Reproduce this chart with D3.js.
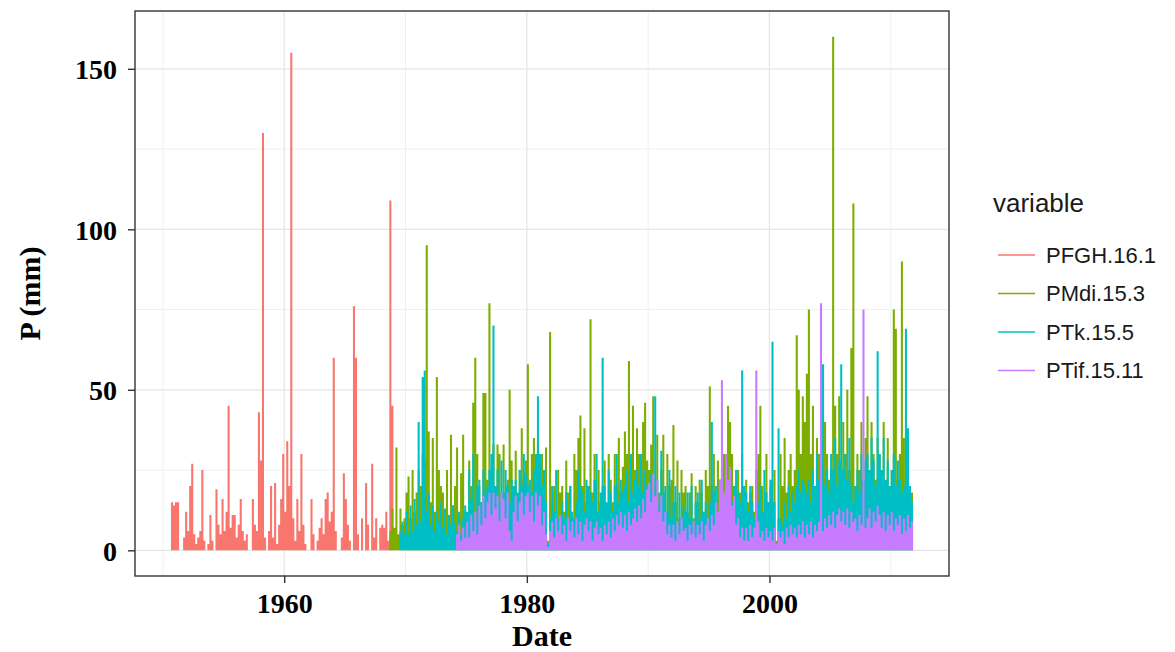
<!DOCTYPE html>
<html>
<head>
<meta charset="utf-8">
<script src="https://cdn.jsdelivr.net/npm/d3@7"></script>
<style>
  body { margin: 0; background: #ffffff; }
  svg { display: block; }
</style>
</head>
<body>
<svg id="chart" width="1175" height="652"></svg>
<script>
// Precipitation records, one value every two months (mm)
const seriesNames = ["PFGH.16.1", "PMdi.15.3", "PTk.15.5", "PTif.15.11"];
const seriesColors = ["#F8766D", "#7CAE00", "#00BFC4", "#C77CFF"];
const stepYears = 1 / 6;

const startPFGH = 1950.75;
const valuesPFGH = [
  15, 14, 15, 15, 0, 0,   4, 12, 6, 20, 27, 5,    2, 4, 6, 25, 3, 0,
  2, 11, 3, 0, 19, 8,     5, 16, 6, 12, 45, 7,    11, 11, 4, 8, 16, 6,
  3, 5, 0, 0, 16, 8,      6, 43, 28, 130, 4, 0,   6, 20, 4, 21, 2, 8,
  16, 30, 12, 34, 20, 155, 10, 3, 16, 6, 30, 8,   2, 0, 0, 16, 5, 0,
  3, 7, 10, 5, 16, 18,    9, 12, 60, 6, 0, 0,     4, 24, 16, 8, 3, 0,
  76, 60, 5, 0, 10, 0,    21, 8, 0, 27, 4, 10,    0, 7, 8, 7, 12, 3,
  109, 45
];

const startPMdi = 1968.75;
const valuesPMdi = [
  6, 13,
  7, 32, 5, 13, 8, 10,
  18, 23, 10, 25, 12, 18,
  25, 20, 30, 28, 95, 37,
  15, 35, 12, 54, 25, 20,
  18, 12, 25, 10, 36, 14,
  20, 32, 10, 24, 36, 12,
  10, 28, 20, 46, 60, 30,
  20, 15, 49, 49, 22, 77,
  25, 33, 8, 33, 30, 18,
  33, 12, 22, 50, 28, 15,
  31, 12, 25, 38, 22, 28,
  58, 18, 30, 35, 20, 33,
  25, 30, 18, 32, 3, 68,
  15, 20, 10, 25, 18, 20,
  12, 28, 18, 20, 8, 30,
  25, 35, 42, 20, 38, 15,
  20, 72, 18, 30, 12, 25,
  15, 20, 28, 12, 30, 22,
  15, 30, 20, 35, 18, 26,
  37, 30, 59, 20, 45, 25,
  38, 30, 22, 40, 46, 28,
  25, 33, 48, 20, 36, 18,
  25, 36, 12, 30, 20, 22,
  39, 15, 28, 10, 25, 18,
  20, 12, 18, 24, 10, 20,
  15, 22, 18, 12, 25, 20,
  51, 20, 30, 15, 28, 22,
  25, 30, 18, 45, 40, 30,
  20, 12, 25, 18, 30, 15,
  22, 15, 18, 20, 12, 25,
  30, 45, 20, 10, 30, 15,
  20, 5, 25, 3, 10, 30,
  20, 35, 18, 25, 30, 20,
  25, 67, 50, 30, 48, 40,
  55, 75, 30, 45, 20, 35,
  30, 20, 25, 40, 30, 22,
  25, 160, 45, 30, 48, 25,
  40, 30, 50, 25, 63, 108,
  20, 30, 25, 40, 18, 35,
  48, 25, 40, 30, 22, 35,
  30, 25, 40, 18, 35, 20,
  25, 75, 69, 22, 30, 90,
  35, 20, 28, 15, 18
];

const startPTk = 1969.5833;
const valuesPTk = [
  6, 9, 5,
  12, 5, 14, 6, 16, 8,
  40, 9, 54, 56, 12, 18,
  8, 14, 6, 12, 9, 15,
  7, 13, 5, 11, 8, 14,
  9, 6, 12, 5, 10, 14,
  12, 25, 16, 30, 10, 20,
  22, 15, 25, 18, 20, 25,
  30, 70, 20, 25, 15, 28,
  18, 25, 20, 15, 22, 20,
  22, 18, 25, 20, 30, 24,
  20, 22, 18, 25, 30, 48,
  30, 20, 25, 15, 2, 10,
  20, 12, 25, 10, 8, 15,
  10, 18, 8, 20, 12, 10,
  15, 25, 20, 18, 12, 22,
  20, 18, 15, 22, 30, 12,
  18, 60, 20, 15, 25, 18,
  12, 20, 30, 15, 22, 18,
  20, 25, 15, 30, 18, 22,
  25, 20, 30, 18, 25, 20,
  20, 24, 18, 48, 22, 15,
  31, 18, 20, 12, 25, 10,
  15, 20, 8, 18, 10, 14,
  12, 18, 10, 20, 8, 15,
  18, 10, 22, 12, 15, 10,
  15, 40, 18, 20, 12, 22,
  20, 15, 25, 18, 22, 15,
  20, 25, 18, 15, 56, 20,
  18, 12, 20, 15, 10, 22,
  15, 20, 12, 25, 18, 15,
  22, 65, 15, 2, 38, 10,
  8, 15, 10, 20, 12, 18,
  15, 20, 25, 18, 22, 20,
  18, 22, 15, 25, 20, 30,
  22, 25, 58, 20, 25, 18,
  30, 25, 35, 20, 28, 58,
  25, 30, 22, 35, 20, 15,
  20, 25, 18, 30, 22, 28,
  30, 25, 35, 28, 20, 62,
  30, 25, 35, 22, 28, 20,
  25, 30, 20, 28, 22, 18,
  20, 69, 38, 20, 15
];

const startPTif = 1974.0833;
const valuesPTif = [
  0, 5, 8, 3, 7, 4,
  9, 4, 11, 6, 12, 5,
  14, 8, 17, 10, 15, 18,
  11, 18, 13, 17, 9, 18,
  16, 10, 18, 6, 3, 12,
  17, 9, 15, 18, 11, 17,
  18, 12, 17, 9, 18, 14,
  17, 8, 12, 5, 1, 6,
  9, 4, 10, 6, 11, 5,
  8, 3, 10, 6, 9, 4,
  10, 5, 9, 3, 8, 10,
  6, 9, 3, 7, 9, 5,
  7, 3, 8, 5, 9, 4,
  10, 6, 11, 8, 12, 7,
  11, 6, 12, 8, 10, 13,
  9, 14, 10, 16, 12, 19,
  21, 15, 24, 17, 22, 12,
  17, 9, 12, 5, 8, 4,
  8, 3, 9, 5, 10, 6,
  7, 3, 8, 5, 9, 4,
  8, 5, 9, 3, 8, 10,
  6, 11, 8, 15, 12, 22,
  53, 18, 30, 22, 26, 14,
  17, 8, 10, 4, 7, 3,
  7, 3, 8, 4, 7, 56,
  9, 4, 6, 3, 7, 4,
  6, 3, 7, 2, 6, 4,
  6, 2, 7, 4, 8, 5,
  7, 4, 8, 5, 9, 4,
  8, 5, 9, 4, 8, 6,
  9, 77, 6, 10, 7, 11,
  8, 12, 7, 11, 13, 9,
  12, 8, 13, 7, 12, 9,
  10, 6, 11, 8, 75, 7,
  10, 13, 7, 12, 9, 14,
  11, 7, 12, 6, 11, 8,
  12, 6, 10, 8, 11, 5,
  10, 6, 11, 7, 9
];

const yTicks = [0, 50, 100, 150];
const yMinorTicks = [25, 75, 125];
const xTicks = [1960, 1980, 2000];
const xMinorTicks = [1950, 1970, 1990, 2010];

const series = [
  { name: seriesNames[0], color: seriesColors[0], start: startPFGH, values: valuesPFGH },
  { name: seriesNames[1], color: seriesColors[1], start: startPMdi, values: valuesPMdi },
  { name: seriesNames[2], color: seriesColors[2], start: startPTk, values: valuesPTk },
  { name: seriesNames[3], color: seriesColors[3], start: startPTif, values: valuesPTif }
].map(s => ({
  ...s,
  points: s.values.map((v, i) => ({ t: s.start + i * stepYears, v }))
}));

// Panel geometry
const panel = { left: 135, right: 949, top: 11, bottom: 576 };

const allPts = series.flatMap(s => s.points);
const tExt = d3.extent(allPts, d => d.t);
const vMax = d3.max(allPts, d => d.v);
const tPad = (tExt[1] - tExt[0]) * 0.05;
const vPad = vMax * 0.05;

const x = d3.scaleLinear()
  .domain([tExt[0] - tPad, tExt[1] + tPad])
  .range([panel.left, panel.right]);
const y = d3.scaleLinear()
  .domain([-vPad, vMax + vPad])
  .range([panel.bottom, panel.top]);

const svg = d3.select("#chart");

// Grid
const grid = svg.append("g");
grid.selectAll("line.ymin").data(yMinorTicks).join("line")
  .attr("x1", panel.left).attr("x2", panel.right)
  .attr("y1", d => y(d)).attr("y2", d => y(d))
  .attr("stroke", "#f0f0f0").attr("stroke-width", 1);
grid.selectAll("line.xmin").data(xMinorTicks).join("line")
  .attr("y1", panel.top).attr("y2", panel.bottom)
  .attr("x1", d => x(d)).attr("x2", d => x(d))
  .attr("stroke", "#f0f0f0").attr("stroke-width", 1);
grid.selectAll("line.ymaj").data(yTicks).join("line")
  .attr("x1", panel.left).attr("x2", panel.right)
  .attr("y1", d => y(d)).attr("y2", d => y(d))
  .attr("stroke", "#e6e6e6").attr("stroke-width", 1.3);
grid.selectAll("line.xmaj").data(xTicks).join("line")
  .attr("y1", panel.top).attr("y2", panel.bottom)
  .attr("x1", d => x(d)).attr("x2", d => x(d))
  .attr("stroke", "#e6e6e6").attr("stroke-width", 1.3);

// Spikes: each value drawn as a vertical stroke from zero
const barW = Math.abs(x(stepYears) - x(0)) + 0.05;
const marks = svg.append("g");
series.forEach(s => {
  const d = s.points
    .filter(p => p.v > 0)
    .map(p => `M${x(p.t).toFixed(2)},${y(0).toFixed(2)}V${y(p.v).toFixed(2)}`)
    .join("");
  marks.append("path")
    .attr("d", d)
    .attr("fill", "none")
    .attr("stroke", s.color)
    .attr("stroke-width", barW);
});

// Panel border
svg.append("rect")
  .attr("x", panel.left).attr("y", panel.top)
  .attr("width", panel.right - panel.left)
  .attr("height", panel.bottom - panel.top)
  .attr("fill", "none").attr("stroke", "#333333").attr("stroke-width", 1.4);

// Axes
const axisFont = "'Liberation Serif', 'Times New Roman', serif";
const xAxis = svg.append("g")
  .attr("transform", `translate(0,${panel.bottom})`)
  .call(d3.axisBottom(x).tickValues(xTicks).tickFormat(d3.format("d")).tickSize(7).tickPadding(6));
const yAxis = svg.append("g")
  .attr("transform", `translate(${panel.left},0)`)
  .call(d3.axisLeft(y).tickValues(yTicks).tickFormat(d3.format("d")).tickSize(7).tickPadding(11));
[xAxis, yAxis].forEach(g => {
  g.select(".domain").remove();
  g.selectAll(".tick line").attr("stroke", "#333333").attr("stroke-width", 1.4);
  g.selectAll(".tick text")
    .attr("fill", "#000")
    .style("font-family", axisFont)
    .style("font-weight", "bold")
    .style("font-size", "28px");
});
xAxis.selectAll(".tick text").attr("dy", "0.85em");
yAxis.selectAll(".tick text").attr("dy", "0.35em");

// Axis titles
svg.append("text")
  .attr("x", (panel.left + panel.right) / 2)
  .attr("y", 646)
  .attr("text-anchor", "middle")
  .style("font-family", axisFont).style("font-weight", "bold").style("font-size", "30px")
  .text("Date");
svg.append("text")
  .attr("transform", `translate(40,${(panel.top + panel.bottom) / 2}) rotate(-90)`)
  .attr("text-anchor", "middle")
  .style("font-family", axisFont).style("font-weight", "bold").style("font-size", "30px")
  .text("P (mm)");

// Legend
const legend = svg.append("g").attr("transform", "translate(993,0)");
legend.append("text")
  .attr("x", 0).attr("y", 212)
  .style("font-family", "'Liberation Sans', Arial, sans-serif")
  .style("font-size", "26px")
  .attr("fill", "#1a1a1a")
  .text("variable");
const legendRows = legend.selectAll("g.row").data(series).join("g")
  .attr("transform", (d, i) => `translate(0,${255 + i * 38.5})`);
legendRows.append("line")
  .attr("x1", 5).attr("x2", 42).attr("y1", 0).attr("y2", 0)
  .attr("stroke", d => d.color).attr("stroke-width", 1.5);
legendRows.append("text")
  .attr("x", 53).attr("y", 0).attr("dy", "0.35em")
  .style("font-family", "'Liberation Sans', Arial, sans-serif")
  .style("font-size", "22px")
  .attr("fill", "#1a1a1a")
  .text(d => d.name);
</script>
</body>
</html>
